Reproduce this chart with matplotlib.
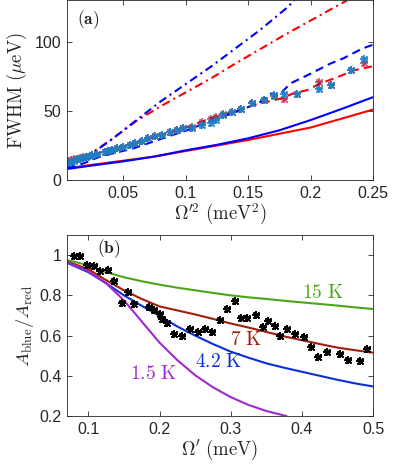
import numpy as np
import matplotlib
matplotlib.use("Agg")
import matplotlib.pyplot as plt

plt.rcParams['mathtext.fontset'] = 'cm'
plt.rcParams['font.family'] = ['Liberation Sans', 'DejaVu Sans']

# ---------------- Panel (a) data ----------------
xa = [0.006, 0.008, 0.0105, 0.013, 0.015, 0.018, 0.02, 0.023, 0.025, 0.029,
      0.035, 0.038, 0.041, 0.045, 0.05, 0.055, 0.059, 0.065, 0.07, 0.075,
      0.081, 0.087, 0.093, 0.098, 0.105, 0.113, 0.12, 0.124, 0.13, 0.137,
      0.144, 0.153, 0.163, 0.171, 0.179, 0.189, 0.207, 0.216, 0.232, 0.243]
ya_red = [14, 14.5, 15, 15.5, 16, 16.5, 17, 17.5, 18, 18.5,
          20.5, 21, 21.5, 23, 24, 25.5, 27, 28.5, 30.5, 32,
          32.5, 35, 36.5, 37.5, 38.5, 42, 44.5, 45.5, 47.5, 49.5,
          51.5, 55.5, 58.3, 61, 59, 62, 71, 69, 79.5, 84.5]
ya_blue = [12, 13, 14, 15, 15.5, 16, 17, 17.5, 18, 18.5,
           20.5, 21, 22, 23, 24, 25.5, 27, 28.5, 30.5, 32,
           32.5, 35, 36.5, 37.5, 37.8, 39.7, 41.5, 43.5, 47, 49.5,
           51.5, 55.5, 58.3, 61.4, 62.2, 62.2, 65.8, 69, 79.5, 87.3]

xs_a = [0.005, 0.025, 0.05, 0.075, 0.1, 0.125, 0.15, 0.175, 0.2, 0.225, 0.25]
solid_blue = [8, 10.5, 13.5, 17, 21.5, 25.5, 30.2, 36, 43.4, 51.5, 60]
solid_red = [8.5, 11, 14, 17, 21, 25, 29, 33.5, 38, 44.5, 51]

xdd_blue = [0.005, 0.02, 0.04, 0.06, 0.08, 0.1, 0.12, 0.14, 0.16, 0.18, 0.187]
dd_blue = [10, 16, 29, 43, 57, 69.5, 82, 95.5, 109, 124, 130]
xdd_red = [0.005, 0.02, 0.04, 0.06, 0.08, 0.1, 0.12, 0.14, 0.16, 0.18, 0.2, 0.22, 0.229]
dd_red = [11, 17, 29, 42.5, 53.5, 63.5, 73.5, 84.5, 95, 105.5, 115.5, 125.5, 130]

xd_blue = [0.005, 0.018, 0.031, 0.058, 0.085, 0.101, 0.122, 0.144, 0.16, 0.168,
           0.174, 0.184, 0.2, 0.216, 0.226, 0.241, 0.25]
d_blue = [9, 12, 16.9, 22.9, 31.3, 36, 43.4, 50.6, 56.6, 62.5,
          61, 70, 77, 84.4, 88, 95, 98]
xd_red = [0.005, 0.02, 0.04, 0.06, 0.08, 0.1, 0.122, 0.133, 0.144, 0.154, 0.165,
          0.176, 0.186, 0.197, 0.208, 0.221, 0.235, 0.25]
d_red = [13.5, 17, 21.5, 27, 32.5, 38, 45.3, 48.2, 50.6, 54.2, 56.6,
         59, 62.7, 65, 70, 74.3, 79.5, 82.4]

# ---------------- Panel (b) data ----------------
xb = [0.0796, 0.088, 0.0988, 0.108, 0.116, 0.127, 0.136, 0.147, 0.156, 0.164,
      0.185, 0.192, 0.2, 0.204, 0.211, 0.221, 0.232, 0.243, 0.254, 0.264,
      0.274, 0.285, 0.295, 0.306, 0.314, 0.323, 0.335, 0.346, 0.353, 0.362,
      0.37, 0.379, 0.39, 0.403, 0.413, 0.423, 0.435, 0.454, 0.465, 0.482, 0.492]
yb = [0.997, 0.997, 0.95, 0.945, 0.92, 0.925, 0.872, 0.763, 0.817, 0.757,
      0.74, 0.727, 0.707, 0.683, 0.662, 0.608, 0.6, 0.633, 0.617, 0.633,
      0.62, 0.675, 0.73, 0.77, 0.687, 0.687, 0.703, 0.642, 0.67, 0.65,
      0.6, 0.633, 0.608, 0.595, 0.543, 0.495, 0.52, 0.508, 0.478, 0.473, 0.533]

xs_b = [0.07, 0.1, 0.125, 0.15, 0.175, 0.2, 0.225, 0.25, 0.275, 0.3,
        0.325, 0.35, 0.375, 0.4, 0.425, 0.45, 0.475, 0.5]
curve_15K = [0.975, 0.95, 0.915, 0.89, 0.87, 0.853, 0.838, 0.825, 0.812, 0.80,
             0.79, 0.782, 0.773, 0.765, 0.757, 0.749, 0.74, 0.732]
curve_7K = [0.968, 0.93, 0.875, 0.825, 0.782, 0.745, 0.725, 0.705, 0.683, 0.66,
            0.64, 0.618, 0.596, 0.577, 0.558, 0.54, 0.527, 0.515]
curve_42K = [0.962, 0.915, 0.86, 0.8, 0.748, 0.698, 0.645, 0.6, 0.558, 0.52,
             0.49, 0.462, 0.44, 0.42, 0.4, 0.38, 0.362, 0.347]
xs_p = [0.07, 0.1, 0.125, 0.15, 0.175, 0.2, 0.225, 0.25, 0.275, 0.3, 0.325, 0.35, 0.378]
curve_15Kp = [0.965, 0.92, 0.86, 0.775, 0.67, 0.565, 0.478, 0.403, 0.343, 0.294, 0.255, 0.225, 0.2]

temps = ['15 K', '7 K', '4.2 K', '1.5 K']

# ---------------- Figure ----------------
W, H = 395, 473
fig = plt.figure(figsize=(W / 100, H / 100), dpi=100)
left = 67 / W
width = 306 / W
axa = fig.add_axes([left, 1 - 180 / H, width, 179.5 / H])
axb = fig.add_axes([left, 1 - 416 / H, width, 181 / H])

spine_c = '#262626'
lw = 1.5

def style(ax):
    for s in ax.spines.values():
        s.set_color(spine_c)
        s.set_linewidth(0.6)
    ax.tick_params(direction='in', top=True, right=True, length=3.5,
                   width=0.6, color=spine_c, labelcolor=spine_c,
                   labelsize=11.5, pad=4)

ast = (4, 2, 0)
ast2 = (4, 2, 45)

# Panel (a)
axa.plot(xs_a, solid_red, color='#ff0000', lw=lw)
axa.plot(xs_a, solid_blue, color='#0000ff', lw=lw)
axa.plot(xdd_red, dd_red, color='#ff0000', lw=lw, dashes=(4, 2, 1, 2))
axa.plot(xdd_blue, dd_blue, color='#0000ff', lw=lw, dashes=(4, 2, 1, 2))
axa.plot(xd_red, d_red, color='#ff0000', lw=lw, dashes=(4, 2.5))
axa.plot(xd_blue, d_blue, color='#0000ff', lw=lw, dashes=(4, 2.5))
for m in (ast, ast2):
    axa.plot(xa, ya_red, ls='none', marker=m, ms=6, mew=1.3,
             color='#a2142f', alpha=0.6)
for m in (ast, ast2):
    axa.plot(xa, ya_blue, ls='none', marker=m, ms=6, mew=1.3,
             color='#1f7fc4', alpha=0.85)
axa.set_xlim(0.0048, 0.25)
axa.set_ylim(0, 130)
axa.set_xticks([0.05, 0.1, 0.15, 0.2, 0.25])
axa.set_xticklabels(['0.05', '0.1', '0.15', '0.2', '0.25'])
axa.set_yticks([0, 50, 100])
style(axa)
axa.set_xlabel(r'$\Omega^{\prime 2}\ (\mathrm{meV}^2)$', fontsize=13.5,
               color=spine_c, labelpad=1)
axa.set_ylabel(r'$\mathrm{FWHM}\ (\mu\mathrm{eV})$', fontsize=13.5,
               color=spine_c, labelpad=4)
axa.text(0.032, 0.955, r'$\mathbf{(a)}$', transform=axa.transAxes,
         ha='left', va='top', fontsize=12.5, color='#222222')

# Panel (b)
axb.plot(xs_b, curve_15K, color='#4da61a', lw=lw)
axb.plot(xs_b, curve_7K, color='#a31c0c', lw=lw)
axb.plot(xs_b, curve_42K, color='#0a2fd6', lw=lw)
axb.plot(xs_p, curve_15Kp, color='#a328cc', lw=lw)
for m in (ast, ast2):
    axb.plot(xb, yb, ls='none', marker=m, ms=6, mew=1.3, color='black')

def mlabel(t):
    return r'$\mathrm{' + t.replace(' ', r'\ ') + '}$'

axb.text(0.429, 0.812, mlabel(temps[0]), color='#4da61a', fontsize=14,
         ha='center', va='center')
axb.text(0.321, 0.58, mlabel(temps[1]), color='#a31c0c', fontsize=14,
         ha='center', va='center')
axb.text(0.283, 0.47, mlabel(temps[2]), color='#0a2fd6', fontsize=14,
         ha='center', va='center')
axb.text(0.192, 0.41, mlabel(temps[3]), color='#a328cc', fontsize=14,
         ha='center', va='center')
axb.set_xlim(0.07, 0.5)
axb.set_ylim(0.2, 1.1)
axb.set_xticks([0.1, 0.2, 0.3, 0.4, 0.5])
axb.set_yticks([0.2, 0.4, 0.6, 0.8, 1.0])
axb.set_yticklabels(['0.2', '0.4', '0.6', '0.8', '1'])
style(axb)
axb.set_xlabel(r"$\Omega^{\prime}\ (\mathrm{meV})$", fontsize=13.5,
               color=spine_c, labelpad=1)
axb.set_ylabel(r'$A_{\rm blue}/A_{\rm red}$', fontsize=13.5,
               color=spine_c, labelpad=2)
axb.text(0.098, 0.985, r'$\mathbf{(b)}$', transform=axb.transAxes,
         ha='left', va='top', fontsize=12.5, color='#222222')

fig.savefig('out.png', dpi=100)
